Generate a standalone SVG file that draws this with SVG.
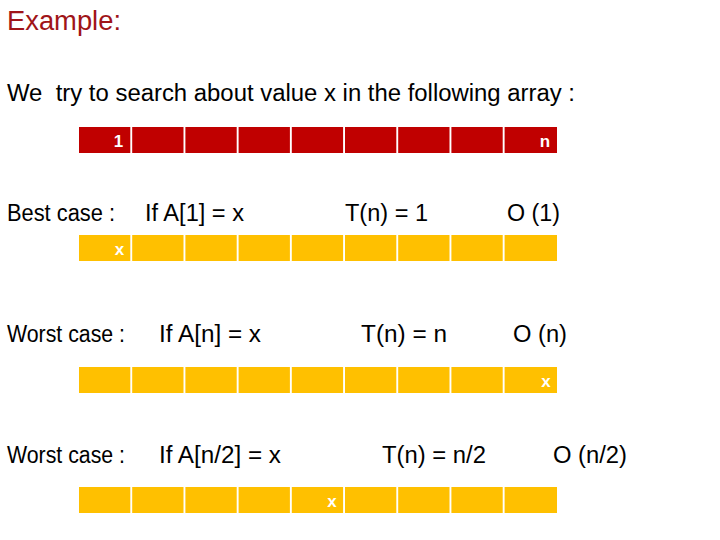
<svg xmlns="http://www.w3.org/2000/svg" width="720" height="540" viewBox="0 0 720 540">
<style>
text{font-family:"Liberation Sans",Arial,sans-serif}
.t{font-size:23px;fill:#000}
.title{font-size:27px;fill:#A01418}
.r{fill:#C00000}
.y{fill:#FFC000}
.c{font-size:17px;font-weight:bold;fill:#fff;text-anchor:middle}
</style>
<defs>
<g id="row">
<rect x="79" y="0" width="51.3" height="26"/>
<rect x="132.2" y="0" width="51.3" height="26"/>
<rect x="185.4" y="0" width="51.3" height="26"/>
<rect x="238.6" y="0" width="51.3" height="26"/>
<rect x="291.8" y="0" width="51.3" height="26"/>
<rect x="345" y="0" width="51.3" height="26"/>
<rect x="398.2" y="0" width="51.3" height="26"/>
<rect x="451.4" y="0" width="51.3" height="26"/>
<rect x="504.6" y="0" width="52.4" height="26"/>
</g>
</defs>
<rect width="720" height="540" fill="#fff"/>
<text class="title" x="7" y="30" textLength="114" lengthAdjust="spacingAndGlyphs">Example:</text>
<text class="t" x="7" y="101" xml:space="preserve" textLength="568" lengthAdjust="spacingAndGlyphs">We  try to search about value x in the following array :</text>

<g id="array-red">
<use href="#row" class="r" y="127"/>
<text class="c" x="118.5" y="147">1</text>
<text class="c" x="545" y="147">n</text>
</g>

<g id="best-case">
<text class="t" x="7" y="221" textLength="108" lengthAdjust="spacingAndGlyphs">Best case :</text>
<text class="t" x="145" y="221" textLength="99" lengthAdjust="spacingAndGlyphs">If A[1] = x</text>
<text class="t" x="345" y="221" textLength="83" lengthAdjust="spacingAndGlyphs">T(n) = 1</text>
<text class="t" x="507" y="221" textLength="53" lengthAdjust="spacingAndGlyphs">O (1)</text>
<use href="#row" class="y" y="235"/>
<text class="c" x="119.5" y="255">x</text>
</g>

<g id="worst-case-n">
<text class="t" x="7" y="342" textLength="118" lengthAdjust="spacingAndGlyphs">Worst case :</text>
<text class="t" x="159" y="342" textLength="102" lengthAdjust="spacingAndGlyphs">If A[n] = x</text>
<text class="t" x="361" y="342" textLength="86" lengthAdjust="spacingAndGlyphs">T(n) = n</text>
<text class="t" x="513" y="342" textLength="54" lengthAdjust="spacingAndGlyphs">O (n)</text>
<use href="#row" class="y" y="367"/>
<text class="c" x="546" y="387">x</text>
</g>

<g id="worst-case-n2">
<text class="t" x="7" y="463" textLength="118" lengthAdjust="spacingAndGlyphs">Worst case :</text>
<text class="t" x="159" y="463" textLength="122" lengthAdjust="spacingAndGlyphs">If A[n/2] = x</text>
<text class="t" x="382" y="463" textLength="104" lengthAdjust="spacingAndGlyphs">T(n) = n/2</text>
<text class="t" x="553" y="463" textLength="74" lengthAdjust="spacingAndGlyphs">O (n/2)</text>
<use href="#row" class="y" y="487"/>
<text class="c" x="332" y="507">x</text>
</g>
</svg>
